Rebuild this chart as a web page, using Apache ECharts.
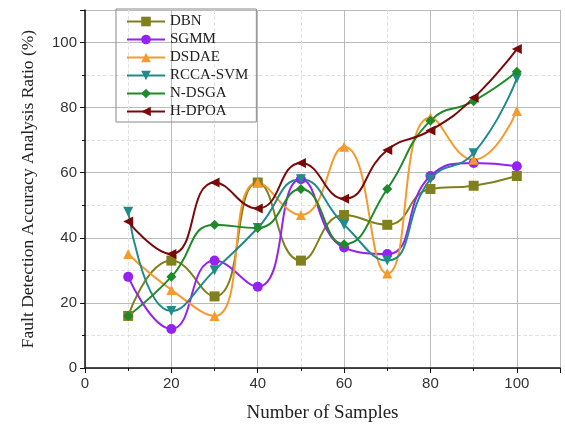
<!DOCTYPE html>
<html>
<head>
<meta charset="utf-8">
<script src="https://cdn.jsdelivr.net/npm/echarts@6/dist/echarts.min.js"></script>
<style>
  html, body { margin: 0; padding: 0; background: #fff; }
  #main { width: 565px; height: 428px; }
</style>
</head>
<body>
<div id="main"></div>
<script>
var samples = [10, 20, 30, 40, 50, 60, 70, 80, 90, 100];
var dbn     = [16, 33, 22, 57, 33, 47, 44, 55, 56, 59];
var sgmm    = [28, 12, 33, 25, 58, 37, 35, 59, 63, 62];
var dsdae   = [35, 24, 16, 57, 47, 68, 29, 77, 64, 79];
var rccaSvm = [48, 17.5, 30, 43, 58, 44, 33, 58, 66, 89];
var nDsga   = [16, 28, 44, 43, 55, 38, 55, 76, 82, 91];
var hDpoa   = [45, 35, 57, 49, 63, 52, 67, 73, 83, 98];

var myChart = echarts.init(document.getElementById('main'));

function pairs(ys) {
    var out = [];
    for (var i = 0; i < samples.length; i++) {
        out.push([samples[i], ys[i]]);
    }
    return out;
}

function line(name, ys, color, symbol, rotate) {
    return {
        name: name,
        type: 'line',
        smooth: 0.5,
        data: pairs(ys),
        symbol: symbol,
        symbolSize: 10,
        symbolRotate: rotate || 0,
        lineStyle: { color: color, width: 2 },
        itemStyle: { color: color }
    };
}

var option = {
    animation: false,
    legend: {
        orient: 'vertical',
        left: 116,
        top: 9,
        padding: [5, 8, 3, 10],
        itemGap: 3,
        itemWidth: 38,
        itemHeight: 12,
        borderColor: '#888',
        borderWidth: 1,
        textStyle: { fontFamily: 'Liberation Serif', fontSize: 15, color: '#222' },
        data: ['DBN', 'SGMM', 'DSDAE', 'RCCA-SVM', 'N-DSGA', 'H-DPOA']
    },
    grid: { left: 85, right: 5, top: 10, bottom: 58 },
    xAxis: {
        type: 'value',
        min: 0,
        max: 110,
        interval: 20,
        name: 'Number of Samples',
        nameLocation: 'middle',
        nameGap: 36,
        nameTextStyle: { fontFamily: 'Liberation Serif', fontSize: 19, color: '#222' },
        axisLine: { onZero: false, lineStyle: { color: '#111', width: 1.5 } },
        axisTick: { length: 5, lineStyle: { color: '#111' } },
        minorTick: { show: true, splitNumber: 2, length: 3, lineStyle: { color: '#111' } },
        axisLabel: { fontFamily: 'Liberation Sans', fontSize: 15, color: '#333', showMaxLabel: false },
        splitLine: { show: true, lineStyle: { color: '#bbb', width: 1 } },
        minorSplitLine: { show: true, lineStyle: { color: '#e2e2e2', type: 'dashed' } }
    },
    yAxis: {
        type: 'value',
        min: 0,
        max: 110,
        interval: 20,
        name: 'Fault Detection Accuracy Analysis Ratio (%)',
        nameLocation: 'middle',
        nameGap: 48,
        nameTextStyle: { fontFamily: 'Liberation Serif', fontSize: 17.5, color: '#222' },
        axisLine: { show: true, lineStyle: { color: '#111', width: 1.5 } },
        axisTick: { show: true, length: 5, lineStyle: { color: '#111' } },
        minorTick: { show: true, splitNumber: 2, length: 3, lineStyle: { color: '#111' } },
        axisLabel: { fontFamily: 'Liberation Sans', fontSize: 15, color: '#333', showMaxLabel: false },
        splitLine: { show: true, lineStyle: { color: '#bbb', width: 1 } },
        minorSplitLine: { show: true, lineStyle: { color: '#e2e2e2', type: 'dashed' } }
    },
    series: [
        line('DBN', dbn, '#80801e', 'rect'),
        line('SGMM', sgmm, '#9422f0', 'circle'),
        line('DSDAE', dsdae, '#f59a2c', 'triangle'),
        line('RCCA-SVM', rccaSvm, '#218a8a', 'triangle', 180),
        line('N-DSGA', nDsga, '#1f8a2a', 'diamond'),
        line('H-DPOA', hDpoa, '#7a0a0a', 'triangle', 90)
    ]
};
myChart.setOption(option);
</script>
</body>
</html>
